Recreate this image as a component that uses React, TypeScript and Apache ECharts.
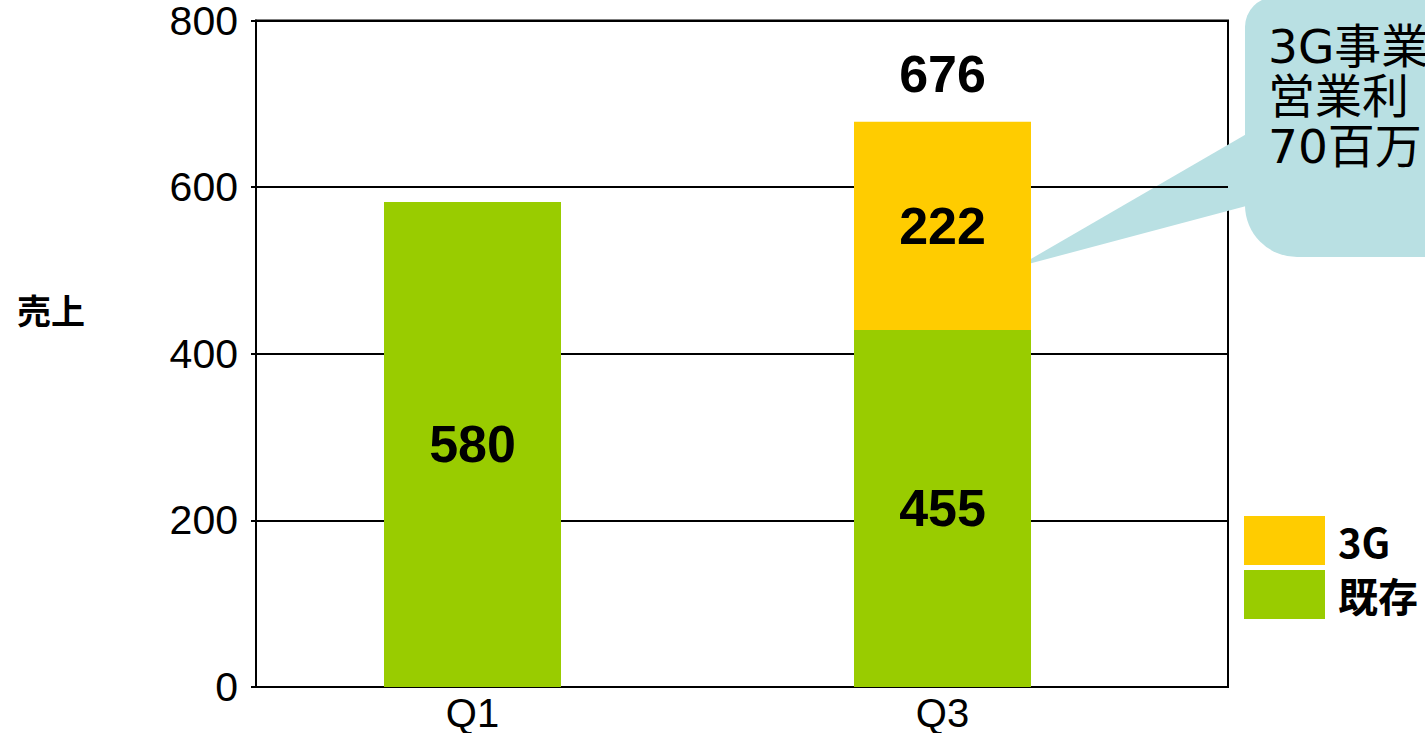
import React, { useEffect, useRef } from "react";
import * as echarts from "echarts";

const categories = ["Q1", "Q3"];
// bar heights as drawn in the picture
const existingValues = [580, 427];
const threeGValues: (number | null)[] = [null, 249];
// printed labels
const existingLabels = ["580", "455"];
const threeGLabels = ["", "222"];
const totalLabels = ["", "676"];
const yTicks = [0, 200, 400, 600, 800];
const seriesNames = ["3G", "既存"];
const yAxisTitle = "売上";
const calloutLines = ["3G事業", "営業利", "70百万"];

const GREEN = "#99CC00";
const YELLOW = "#FFCC00";
const BUBBLE = "#B9E0E3";
const LATIN = "Liberation Sans, Arial, sans-serif";
const CJK = "Noto Sans CJK JP, sans-serif";
const CALLOUT_FONT = "DejaVu Sans, Noto Sans CJK JP, sans-serif";

export default function App() {
  const ref = useRef<HTMLDivElement>(null);
  useEffect(() => {
    if (!ref.current) return;
    const chart = echarts.init(ref.current, undefined, { renderer: "svg" });
    const totals = categories.map((_, i) =>
      threeGValues[i] == null ? null : existingValues[i] + (threeGValues[i] as number)
    );
    const option: any = {
      animation: false,
      backgroundColor: "#fff",
      grid: [
        { left: 256, right: 197, top: 18, bottom: 46, show: true, borderColor: "#000", borderWidth: 2 },
        { left: 237.5, right: 247.5, top: 18, bottom: 44 },
      ],
      xAxis: [
        { type: "value", gridIndex: 0, show: false, min: 0, max: 1 },
        {
          type: "category",
          gridIndex: 1,
          data: categories,
          axisLine: { show: false, onZero: false },
          axisTick: { show: false },
          axisLabel: { color: "#000", fontSize: 40, lineHeight: 30, fontFamily: LATIN, margin: 11 },
        },
      ],
      yAxis: [
        {
          type: "value",
          gridIndex: 0,
          min: yTicks[0],
          max: yTicks[yTicks.length - 1],
          interval: 200,
          axisLine: { show: true, lineStyle: { color: "#000", width: 2 } },
          axisTick: { show: true, length: 5, lineStyle: { color: "#000", width: 2 } },
          axisLabel: { color: "#000", fontSize: 41, lineHeight: 30, fontFamily: LATIN, margin: 18 },
          splitLine: { show: true, lineStyle: { color: "#000", width: 2 } },
        },
        {
          type: "value",
          gridIndex: 1,
          min: yTicks[0],
          max: yTicks[yTicks.length - 1],
          show: false,
        },
      ],
      legend: {
        data: seriesNames,
        orient: "vertical",
        left: 1244,
        top: 516,
        padding: 0,
        itemWidth: 81,
        itemHeight: 49,
        itemGap: 5,
        icon: "rect",
        selectedMode: false,
        textStyle: { color: "#000", fontSize: 40, fontWeight: "bold", fontFamily: CJK, padding: [0, 0, 0, 8] },
      },
      series: [
        {
          name: seriesNames[1],
          type: "bar",
          stack: "s",
          xAxisIndex: 1,
          yAxisIndex: 1,
          barWidth: 177,
          itemStyle: { color: GREEN },
          data: existingValues,
          label: {
            show: true,
            position: "inside",
            color: "#000",
            fontSize: 52,
            fontWeight: "bold",
            fontFamily: LATIN,
            formatter: (p: any) => existingLabels[p.dataIndex],
          },
        },
        {
          name: seriesNames[0],
          type: "bar",
          stack: "s",
          xAxisIndex: 1,
          yAxisIndex: 1,
          barWidth: 177,
          itemStyle: { color: YELLOW },
          data: threeGValues,
          label: {
            show: true,
            position: "inside",
            color: "#000",
            fontSize: 52,
            fontWeight: "bold",
            fontFamily: LATIN,
            formatter: (p: any) => threeGLabels[p.dataIndex],
          },
        },
        {
          name: "total",
          type: "scatter",
          xAxisIndex: 1,
          yAxisIndex: 1,
          symbolSize: 0,
          itemStyle: { opacity: 1, color: "#000" },
          data: totals,
          label: {
            show: true,
            position: "top",
            distance: 22,
            color: "#000",
            opacity: 1,
            fontSize: 52,
            fontWeight: "bold",
            fontFamily: LATIN,
            formatter: (p: any) => totalLabels[p.dataIndex],
          },
        },
      ],
      graphic: [
        {
          type: "text",
          left: 17,
          top: 292,
          style: { text: yAxisTitle, fontSize: 34, fontWeight: "bold", fontFamily: CJK, fill: "#000" },
        },
        {
          type: "polygon",
          shape: { points: [[1017, 267], [1250, 132], [1250, 205]] },
          style: { fill: BUBBLE },
        },
        {
          type: "rect",
          shape: { x: 1245, y: -3, width: 260, height: 260, r: [30, 0, 0, 52] },
          style: { fill: BUBBLE },
        },
        {
          type: "text",
          x: 1268,
          y: 21,
          style: {
            text: calloutLines.join("\n"),
            fontSize: 47,
            lineHeight: 50,
            fontFamily: CALLOUT_FONT,
            fill: "#000",
          },
        },
      ],
    };
    chart.setOption(option);
    return () => chart.dispose();
  }, []);
  return (
    <div
      ref={ref}
      style={{ position: "fixed", left: 0, top: 0, width: 1425, height: 733, overflow: "hidden" }}
    />
  );
}
